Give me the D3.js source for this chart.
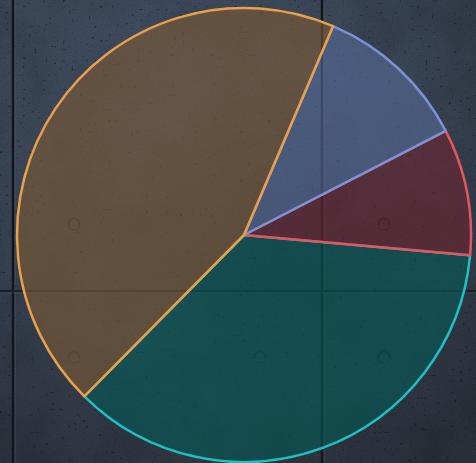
<!DOCTYPE html>
<html>
<head>
<meta charset="utf-8">
<script src="https://cdn.jsdelivr.net/npm/d3@7"></script>
<style>
  html, body { margin: 0; padding: 0; background: #3b4656; overflow: hidden; }
  svg { display: block; }
</style>
</head>
<body>
<script>
// Slice data, listed clockwise from the first slice edge
const categories = ["Orange", "Blue", "Red", "Teal"];
const values = [44, 11, 9, 36];
const strokeColors = ["#e9a04c", "#7b92d6", "#e2575f", "#1ec0c4"];
const fillColors = ["#7e5a33", "#566a98", "#6c2430", "#045a56"];

const W = 476, H = 463;
const cx = 244, cy = 235, radius = 227;
const startDeg = -135.3;

const svg = d3.select("body").append("svg")
  .attr("width", W).attr("height", H);

const defs = svg.append("defs");

// lighting across the concrete wall
const light = defs.append("radialGradient")
  .attr("id", "wallLight")
  .attr("gradientUnits", "userSpaceOnUse")
  .attr("cx", 190).attr("cy", 90).attr("r", 440);
light.append("stop").attr("offset", "0").attr("stop-color", "#445166");
light.append("stop").attr("offset", "0.5").attr("stop-color", "#3a4555");
light.append("stop").attr("offset", "1").attr("stop-color", "#2b313b");

// darker patch in the middle of the wall
const shade = defs.append("radialGradient")
  .attr("id", "wallShade")
  .attr("gradientUnits", "userSpaceOnUse")
  .attr("cx", 280).attr("cy", 250).attr("r", 170);
shade.append("stop").attr("offset", "0").attr("stop-color", "#000").attr("stop-opacity", 0.22);
shade.append("stop").attr("offset", "1").attr("stop-color", "#000").attr("stop-opacity", 0);

// fine grain of the concrete
const grain = defs.append("filter").attr("id", "grain")
  .attr("x", 0).attr("y", 0).attr("width", "100%").attr("height", "100%");
grain.append("feTurbulence").attr("type", "fractalNoise")
  .attr("baseFrequency", 0.9).attr("numOctaves", 2).attr("seed", 4).attr("result", "n");
grain.append("feColorMatrix").attr("type", "matrix")
  .attr("values", "0 0 0 0 0  0 0 0 0 0  0 0 0 0 0  0 0 0 -1.2 0.75");

// sparse dark pits
const pits = defs.append("filter").attr("id", "pits")
  .attr("x", 0).attr("y", 0).attr("width", "100%").attr("height", "100%");
pits.append("feTurbulence").attr("type", "fractalNoise")
  .attr("baseFrequency", 0.35).attr("numOctaves", 1).attr("seed", 11).attr("result", "n");
pits.append("feColorMatrix").attr("type", "matrix")
  .attr("values", "0 0 0 0 0  0 0 0 0 0  0 0 0 0 0  -9 0 0 0 2.9");

// soft blotches
const blotch = defs.append("filter").attr("id", "blotch")
  .attr("x", 0).attr("y", 0).attr("width", "100%").attr("height", "100%");
blotch.append("feTurbulence").attr("type", "fractalNoise")
  .attr("baseFrequency", 0.02).attr("numOctaves", 3).attr("seed", 7);
blotch.append("feColorMatrix").attr("type", "matrix")
  .attr("values", "0 0 0 0 0  0 0 0 0 0  0 0 0 0 0  0 0 0 -0.8 0.5");

const wall = svg.append("g");
wall.append("rect").attr("width", W).attr("height", H).attr("fill", "url(#wallLight)");
wall.append("rect").attr("width", W).attr("height", H).attr("fill", "url(#wallShade)");
wall.append("rect").attr("width", W).attr("height", H).attr("filter", "url(#blotch)").attr("opacity", 0.25);
wall.append("rect").attr("width", W).attr("height", H).attr("filter", "url(#grain)").attr("opacity", 0.18);
wall.append("rect").attr("width", W).attr("height", H).attr("filter", "url(#pits)").attr("opacity", 0.4);

// panel seams
const seams = wall.append("g");
[13, 322].forEach(x => {
  seams.append("line").attr("x1", x).attr("x2", x).attr("y1", 0).attr("y2", H)
    .attr("stroke", "#12161c").attr("stroke-width", 2.4);
  seams.append("line").attr("x1", x + 2.2).attr("x2", x + 2.2).attr("y1", 0).attr("y2", H)
    .attr("stroke", "#55606f").attr("stroke-width", 0.8).attr("opacity", 0.5);
});
seams.append("line").attr("x1", 0).attr("x2", W).attr("y1", 291).attr("y2", 291)
  .attr("stroke", "#1b2028").attr("stroke-width", 1.8);
seams.append("line").attr("x1", 0).attr("x2", W).attr("y1", 293).attr("y2", 293)
  .attr("stroke", "#55606f").attr("stroke-width", 0.8).attr("opacity", 0.4);

// form-tie holes
const holes = [[74, 224], [74, 357], [260, 357], [384, 224], [384, 357]];
holes.forEach(([x, y]) => {
  wall.append("circle").attr("cx", x).attr("cy", y).attr("r", 5.5)
    .attr("fill", "none").attr("stroke", "#191e25").attr("stroke-width", 1.4).attr("opacity", 0.9);
  wall.append("path")
    .attr("d", `M${x - 5},${y + 1.5} A5.5,5.5 0 0 0 ${x + 5},${y + 1.5}`)
    .attr("fill", "none").attr("stroke", "#6b7685").attr("stroke-width", 0.8).attr("opacity", 0.5);
});

// pie: slices are painted last-to-first so the first slice's outline sits on top
const pie = d3.pie().sort(null).value(d => d)
  .startAngle(startDeg * Math.PI / 180)
  .endAngle(startDeg * Math.PI / 180 + 2 * Math.PI);
const arc = d3.arc().innerRadius(0).outerRadius(radius);

const arcs = pie(values).map((d, i) => ({ ...d, i })).reverse();

const slices = svg.append("g").attr("transform", `translate(${cx},${cy})`)
  .selectAll("g").data(arcs).join("g");

slices.append("path")
  .attr("d", arc)
  .attr("fill", d => fillColors[d.i])
  .attr("fill-opacity", 0.6)
  .attr("stroke", d => strokeColors[d.i])
  .attr("stroke-width", 2.5)
  .attr("stroke-linejoin", "round");
</script>
</body>
</html>
